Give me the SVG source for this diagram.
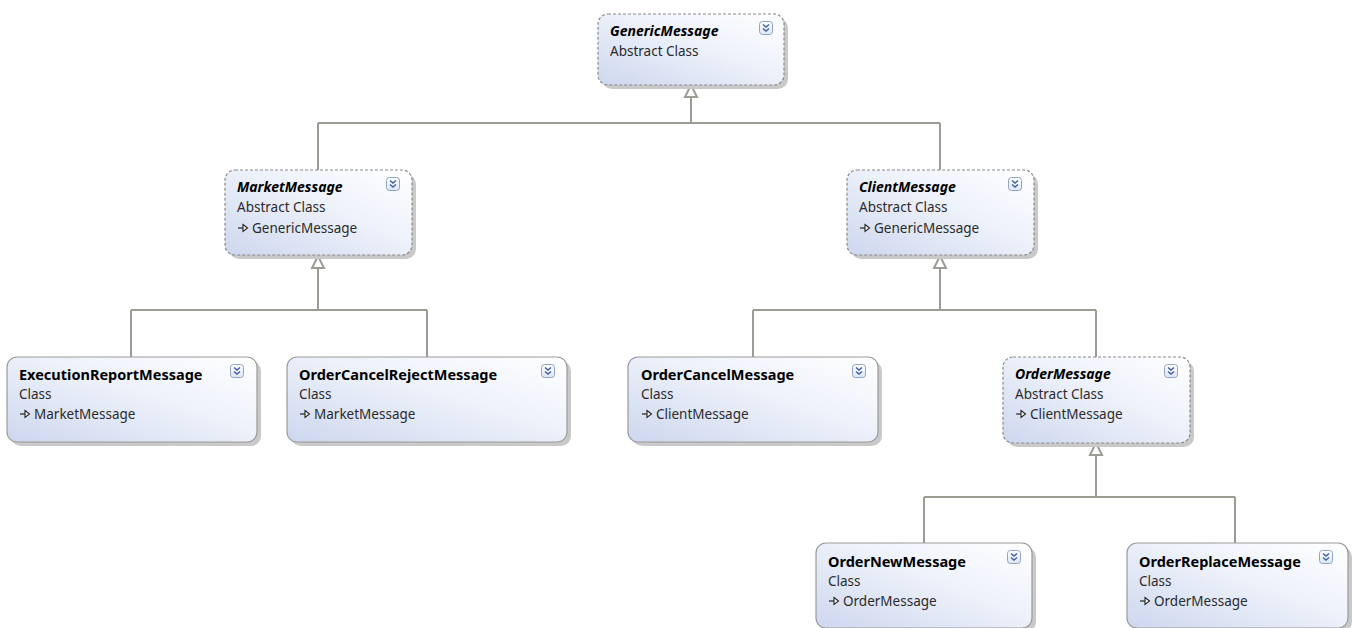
<svg xmlns="http://www.w3.org/2000/svg" width="1355" height="628" viewBox="0 0 1355 628">
  <defs>
    <linearGradient id="boxFill" x1="0" y1="1" x2="1" y2="0">
      <stop offset="0" stop-color="#cdd7ee"/>
      <stop offset="0.55" stop-color="#edf1fa"/>
      <stop offset="1" stop-color="#ffffff"/>
    </linearGradient>
    <linearGradient id="iconFill" x1="0" y1="0" x2="0" y2="1">
      <stop offset="0" stop-color="#ffffff"/>
      <stop offset="1" stop-color="#dde6f5"/>
    </linearGradient>
    <g id="expander">
      <rect x="0.5" y="0.5" width="13" height="13" rx="3" fill="url(#iconFill)" stroke="#8fa3c7" stroke-width="1"/>
      <path d="M4 3.5 L7 6 L10 3.5 M4 7.5 L7 10 L10 7.5" fill="none" stroke="#3f5f9f" stroke-width="1.4"/>
    </g>
    <g id="inherits">
      <path d="M0 0 H7" stroke="#222" stroke-width="1.2"/>
      <path d="M5 -3.5 L9.5 0 L5 3.5 Z" fill="#fff" stroke="#222" stroke-width="1.1"/>
    </g>
  </defs>
  <style>
    .shadow { fill: #c9c9c9; }
    .box { fill: url(#boxFill); stroke: #9a9a9a; stroke-width: 1.2; }
    .abstract { stroke: #8a8a8a; stroke-dasharray: 3 2; }
    .title { font-family: "Noto Sans", "Open Sans", sans-serif; font-size: 14.5px; font-weight: bold; fill: #000; }
    .italic { font-style: italic; font-size: 14px; }
    .sub { font-family: "Noto Sans", "Open Sans", sans-serif; font-size: 13.5px; fill: #2b2b2b; }
    .link { fill: none; stroke: #9c9c94; stroke-width: 2; }
    .head { fill: #fff; stroke: #9c9c94; stroke-width: 2; }
  </style>

  <!-- inheritance connectors -->
  <g id="connectors">
    <path class="link" d="M691 97 V123 M318 123 H940 M318 123 V170 M940 123 V170"/>
    <path class="head" d="M691 85 L697 97 H685 Z"/>
    <path class="link" d="M318 268 V310 M131 310 H427 M131 310 V357 M427 310 V357"/>
    <path class="head" d="M318 256 L324 268 H312 Z"/>
    <path class="link" d="M940 268 V310 M753 310 H1096 M753 310 V357 M1096 310 V357"/>
    <path class="head" d="M940 256 L946 268 H934 Z"/>
    <path class="link" d="M1096 455 V497 M924 497 H1235 M924 497 V543 M1235 497 V543"/>
    <path class="head" d="M1096 443 L1102 455 H1090 Z"/>
  </g>

  <g id="GenericMessage">
    <rect class="shadow" x="602" y="18" width="186" height="71" rx="10"/>
    <rect class="box abstract" x="598" y="14" width="186" height="71" rx="10"/>
    <use href="#expander" x="759" y="21"/>
    <text class="title italic" x="610" y="36">GenericMessage</text>
    <text class="sub" x="610" y="56">Abstract Class</text>
  </g>

  <g id="MarketMessage">
    <rect class="shadow" x="229" y="174" width="187" height="85" rx="10"/>
    <rect class="box abstract" x="225" y="170" width="187" height="85" rx="10"/>
    <use href="#expander" x="386" y="177"/>
    <text class="title italic" x="237" y="192">MarketMessage</text>
    <text class="sub" x="237" y="212">Abstract Class</text>
    <use href="#inherits" x="238" y="228"/>
    <text class="sub" x="252" y="233">GenericMessage</text>
  </g>

  <g id="ClientMessage">
    <rect class="shadow" x="851" y="174" width="187" height="85" rx="10"/>
    <rect class="box abstract" x="847" y="170" width="187" height="85" rx="10"/>
    <use href="#expander" x="1008" y="177"/>
    <text class="title italic" x="859" y="192">ClientMessage</text>
    <text class="sub" x="859" y="212">Abstract Class</text>
    <use href="#inherits" x="860" y="228"/>
    <text class="sub" x="874" y="233">GenericMessage</text>
  </g>

  <g id="ExecutionReportMessage">
    <rect class="shadow" x="11" y="361" width="250" height="85" rx="10"/>
    <rect class="box" x="7" y="357" width="250" height="85" rx="10"/>
    <use href="#expander" x="230" y="364"/>
    <text class="title" x="19" y="380">ExecutionReportMessage</text>
    <text class="sub" x="19" y="399">Class</text>
    <use href="#inherits" x="20" y="414"/>
    <text class="sub" x="34" y="419">MarketMessage</text>
  </g>

  <g id="OrderCancelRejectMessage">
    <rect class="shadow" x="291" y="361" width="280" height="85" rx="10"/>
    <rect class="box" x="287" y="357" width="280" height="85" rx="10"/>
    <use href="#expander" x="541" y="364"/>
    <text class="title" x="299" y="380">OrderCancelRejectMessage</text>
    <text class="sub" x="299" y="399">Class</text>
    <use href="#inherits" x="300" y="414"/>
    <text class="sub" x="314" y="419">MarketMessage</text>
  </g>

  <g id="OrderCancelMessage">
    <rect class="shadow" x="632" y="361" width="250" height="85" rx="10"/>
    <rect class="box" x="628" y="357" width="250" height="85" rx="10"/>
    <use href="#expander" x="852" y="364"/>
    <text class="title" x="641" y="380">OrderCancelMessage</text>
    <text class="sub" x="641" y="399">Class</text>
    <use href="#inherits" x="642" y="414"/>
    <text class="sub" x="656" y="419">ClientMessage</text>
  </g>

  <g id="OrderMessage">
    <rect class="shadow" x="1007" y="361" width="187" height="86" rx="10"/>
    <rect class="box abstract" x="1003" y="357" width="187" height="86" rx="10"/>
    <use href="#expander" x="1164" y="364"/>
    <text class="title italic" x="1015" y="379">OrderMessage</text>
    <text class="sub" x="1015" y="399">Abstract Class</text>
    <use href="#inherits" x="1016" y="414"/>
    <text class="sub" x="1030" y="419">ClientMessage</text>
  </g>

  <g id="OrderNewMessage">
    <rect class="shadow" x="820" y="547" width="216" height="85" rx="10"/>
    <rect class="box" x="816" y="543" width="216" height="85" rx="10"/>
    <use href="#expander" x="1007" y="550"/>
    <text class="title" x="828" y="567">OrderNewMessage</text>
    <text class="sub" x="828" y="586">Class</text>
    <use href="#inherits" x="829" y="601"/>
    <text class="sub" x="843" y="606">OrderMessage</text>
  </g>

  <g id="OrderReplaceMessage">
    <rect class="shadow" x="1131" y="547" width="221" height="85" rx="10"/>
    <rect class="box" x="1127" y="543" width="221" height="85" rx="10"/>
    <use href="#expander" x="1319" y="550"/>
    <text class="title" x="1139" y="567">OrderReplaceMessage</text>
    <text class="sub" x="1139" y="586">Class</text>
    <use href="#inherits" x="1140" y="601"/>
    <text class="sub" x="1154" y="606">OrderMessage</text>
  </g>
</svg>
